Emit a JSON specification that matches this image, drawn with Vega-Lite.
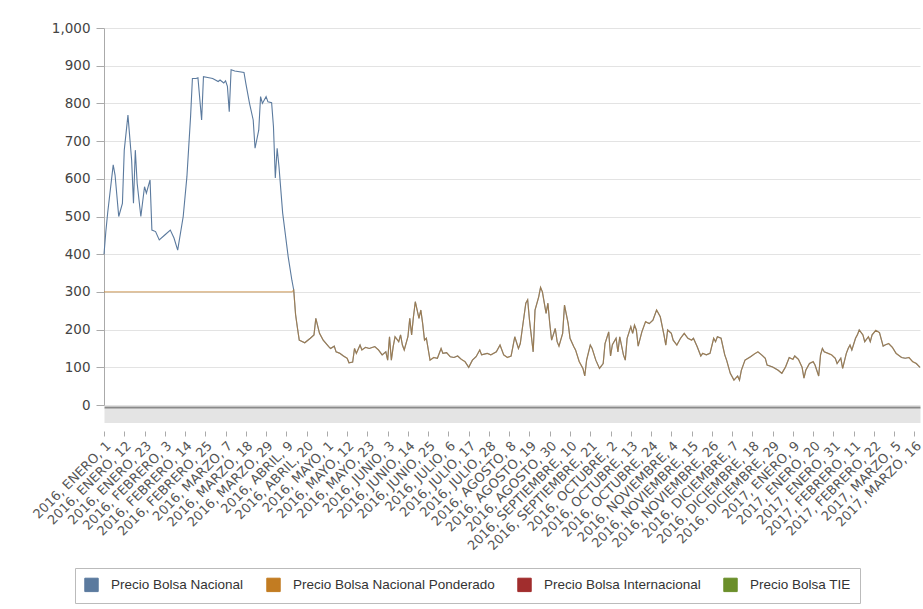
{
  "$schema": "https://vega.github.io/schema/vega-lite/v6.json",
  "width": 816,
  "height": 377,
  "autosize": "none",
  "padding": {"left": 104, "top": 28, "right": 3, "bottom": 204},
  "background": "white",
  "config": {"view": {"stroke": null}},
  "data": {"values": [
    {"fecha": "2016-01-01", "nacional": 400, "ponderado": 300},
    {"fecha": "2016-01-02", "nacional": 460, "ponderado": 300},
    {"fecha": "2016-01-03", "nacional": 510, "ponderado": 300},
    {"fecha": "2016-01-06", "nacional": 637, "ponderado": 300},
    {"fecha": "2016-01-07", "nacional": 610, "ponderado": 300},
    {"fecha": "2016-01-09", "nacional": 500, "ponderado": 300},
    {"fecha": "2016-01-11", "nacional": 535, "ponderado": 300},
    {"fecha": "2016-01-12", "nacional": 676, "ponderado": 300},
    {"fecha": "2016-01-14", "nacional": 769, "ponderado": 300},
    {"fecha": "2016-01-16", "nacional": 650, "ponderado": 300},
    {"fecha": "2016-01-17", "nacional": 535, "ponderado": 300},
    {"fecha": "2016-01-18", "nacional": 676, "ponderado": 300},
    {"fecha": "2016-01-19", "nacional": 588, "ponderado": 300},
    {"fecha": "2016-01-21", "nacional": 500, "ponderado": 300},
    {"fecha": "2016-01-23", "nacional": 579, "ponderado": 300},
    {"fecha": "2016-01-24", "nacional": 562, "ponderado": 300},
    {"fecha": "2016-01-26", "nacional": 597, "ponderado": 300},
    {"fecha": "2016-01-27", "nacional": 464, "ponderado": 300},
    {"fecha": "2016-01-29", "nacional": 460, "ponderado": 300},
    {"fecha": "2016-01-31", "nacional": 438, "ponderado": 300},
    {"fecha": "2016-02-03", "nacional": 451, "ponderado": 300},
    {"fecha": "2016-02-06", "nacional": 464, "ponderado": 300},
    {"fecha": "2016-02-08", "nacional": 443, "ponderado": 300},
    {"fecha": "2016-02-10", "nacional": 411, "ponderado": 300},
    {"fecha": "2016-02-13", "nacional": 500, "ponderado": 300},
    {"fecha": "2016-02-15", "nacional": 605, "ponderado": 300},
    {"fecha": "2016-02-17", "nacional": 765, "ponderado": 300},
    {"fecha": "2016-02-18", "nacional": 866, "ponderado": 300},
    {"fecha": "2016-02-20", "nacional": 866, "ponderado": 300},
    {"fecha": "2016-02-21", "nacional": 868, "ponderado": 300},
    {"fecha": "2016-02-23", "nacional": 756, "ponderado": 300},
    {"fecha": "2016-02-24", "nacional": 871, "ponderado": 300},
    {"fecha": "2016-02-27", "nacional": 868, "ponderado": 300},
    {"fecha": "2016-02-29", "nacional": 866, "ponderado": 300},
    {"fecha": "2016-03-03", "nacional": 858, "ponderado": 300},
    {"fecha": "2016-03-04", "nacional": 862, "ponderado": 300},
    {"fecha": "2016-03-06", "nacional": 854, "ponderado": 300},
    {"fecha": "2016-03-07", "nacional": 860, "ponderado": 300},
    {"fecha": "2016-03-08", "nacional": 845, "ponderado": 300},
    {"fecha": "2016-03-09", "nacional": 778, "ponderado": 300},
    {"fecha": "2016-03-10", "nacional": 889, "ponderado": 300},
    {"fecha": "2016-03-12", "nacional": 886, "ponderado": 300},
    {"fecha": "2016-03-17", "nacional": 882, "ponderado": 300},
    {"fecha": "2016-03-18", "nacional": 853, "ponderado": 300},
    {"fecha": "2016-03-20", "nacional": 800, "ponderado": 300},
    {"fecha": "2016-03-22", "nacional": 756, "ponderado": 300},
    {"fecha": "2016-03-23", "nacional": 681, "ponderado": 300},
    {"fecha": "2016-03-25", "nacional": 729, "ponderado": 300},
    {"fecha": "2016-03-26", "nacional": 818, "ponderado": 300},
    {"fecha": "2016-03-27", "nacional": 800, "ponderado": 300},
    {"fecha": "2016-03-29", "nacional": 818, "ponderado": 300},
    {"fecha": "2016-03-30", "nacional": 804, "ponderado": 300},
    {"fecha": "2016-04-01", "nacional": 802, "ponderado": 300},
    {"fecha": "2016-04-02", "nacional": 738, "ponderado": 300},
    {"fecha": "2016-04-03", "nacional": 602, "ponderado": 300},
    {"fecha": "2016-04-04", "nacional": 681, "ponderado": 300},
    {"fecha": "2016-04-05", "nacional": 632, "ponderado": 300},
    {"fecha": "2016-04-07", "nacional": 509, "ponderado": 300},
    {"fecha": "2016-04-10", "nacional": 393, "ponderado": 300},
    {"fecha": "2016-04-12", "nacional": 331, "ponderado": 300},
    {"fecha": "2016-04-13", "nacional": 305, "ponderado": 305},
    {"fecha": "2016-04-14", "nacional": 240, "ponderado": 240},
    {"fecha": "2016-04-15", "nacional": 205, "ponderado": 205},
    {"fecha": "2016-04-16", "nacional": 172, "ponderado": 172},
    {"fecha": "2016-04-19", "nacional": 165, "ponderado": 165},
    {"fecha": "2016-04-22", "nacional": 177, "ponderado": 177},
    {"fecha": "2016-04-24", "nacional": 186, "ponderado": 186},
    {"fecha": "2016-04-25", "nacional": 230, "ponderado": 230},
    {"fecha": "2016-04-27", "nacional": 190, "ponderado": 190},
    {"fecha": "2016-04-29", "nacional": 172, "ponderado": 172},
    {"fecha": "2016-05-02", "nacional": 155, "ponderado": 155},
    {"fecha": "2016-05-03", "nacional": 150, "ponderado": 150},
    {"fecha": "2016-05-05", "nacional": 156, "ponderado": 156},
    {"fecha": "2016-05-06", "nacional": 141, "ponderado": 141},
    {"fecha": "2016-05-08", "nacional": 137, "ponderado": 137},
    {"fecha": "2016-05-10", "nacional": 130, "ponderado": 130},
    {"fecha": "2016-05-12", "nacional": 124, "ponderado": 124},
    {"fecha": "2016-05-13", "nacional": 112, "ponderado": 112},
    {"fecha": "2016-05-15", "nacional": 114, "ponderado": 114},
    {"fecha": "2016-05-16", "nacional": 150, "ponderado": 150},
    {"fecha": "2016-05-17", "nacional": 137, "ponderado": 137},
    {"fecha": "2016-05-19", "nacional": 159, "ponderado": 159},
    {"fecha": "2016-05-20", "nacional": 146, "ponderado": 146},
    {"fecha": "2016-05-22", "nacional": 153, "ponderado": 153},
    {"fecha": "2016-05-24", "nacional": 150, "ponderado": 150},
    {"fecha": "2016-05-27", "nacional": 155, "ponderado": 155},
    {"fecha": "2016-05-29", "nacional": 146, "ponderado": 146},
    {"fecha": "2016-05-31", "nacional": 133, "ponderado": 133},
    {"fecha": "2016-06-02", "nacional": 141, "ponderado": 141},
    {"fecha": "2016-06-03", "nacional": 119, "ponderado": 119},
    {"fecha": "2016-06-04", "nacional": 181, "ponderado": 181},
    {"fecha": "2016-06-05", "nacional": 119, "ponderado": 119},
    {"fecha": "2016-06-06", "nacional": 155, "ponderado": 155},
    {"fecha": "2016-06-07", "nacional": 181, "ponderado": 181},
    {"fecha": "2016-06-09", "nacional": 168, "ponderado": 168},
    {"fecha": "2016-06-10", "nacional": 186, "ponderado": 186},
    {"fecha": "2016-06-11", "nacional": 159, "ponderado": 159},
    {"fecha": "2016-06-12", "nacional": 146, "ponderado": 146},
    {"fecha": "2016-06-14", "nacional": 181, "ponderado": 181},
    {"fecha": "2016-06-15", "nacional": 230, "ponderado": 230},
    {"fecha": "2016-06-16", "nacional": 186, "ponderado": 186},
    {"fecha": "2016-06-17", "nacional": 234, "ponderado": 234},
    {"fecha": "2016-06-18", "nacional": 274, "ponderado": 274},
    {"fecha": "2016-06-20", "nacional": 230, "ponderado": 230},
    {"fecha": "2016-06-21", "nacional": 252, "ponderado": 252},
    {"fecha": "2016-06-22", "nacional": 216, "ponderado": 216},
    {"fecha": "2016-06-23", "nacional": 172, "ponderado": 172},
    {"fecha": "2016-06-24", "nacional": 177, "ponderado": 177},
    {"fecha": "2016-06-26", "nacional": 119, "ponderado": 119},
    {"fecha": "2016-06-28", "nacional": 126, "ponderado": 126},
    {"fecha": "2016-06-30", "nacional": 124, "ponderado": 124},
    {"fecha": "2016-07-02", "nacional": 150, "ponderado": 150},
    {"fecha": "2016-07-03", "nacional": 137, "ponderado": 137},
    {"fecha": "2016-07-05", "nacional": 139, "ponderado": 139},
    {"fecha": "2016-07-07", "nacional": 128, "ponderado": 128},
    {"fecha": "2016-07-09", "nacional": 126, "ponderado": 126},
    {"fecha": "2016-07-11", "nacional": 130, "ponderado": 130},
    {"fecha": "2016-07-13", "nacional": 121, "ponderado": 121},
    {"fecha": "2016-07-15", "nacional": 115, "ponderado": 115},
    {"fecha": "2016-07-17", "nacional": 100, "ponderado": 100},
    {"fecha": "2016-07-19", "nacional": 119, "ponderado": 119},
    {"fecha": "2016-07-21", "nacional": 128, "ponderado": 128},
    {"fecha": "2016-07-23", "nacional": 146, "ponderado": 146},
    {"fecha": "2016-07-24", "nacional": 133, "ponderado": 133},
    {"fecha": "2016-07-27", "nacional": 137, "ponderado": 137},
    {"fecha": "2016-07-29", "nacional": 133, "ponderado": 133},
    {"fecha": "2016-08-01", "nacional": 141, "ponderado": 141},
    {"fecha": "2016-08-03", "nacional": 159, "ponderado": 159},
    {"fecha": "2016-08-05", "nacional": 133, "ponderado": 133},
    {"fecha": "2016-08-07", "nacional": 126, "ponderado": 126},
    {"fecha": "2016-08-09", "nacional": 130, "ponderado": 130},
    {"fecha": "2016-08-10", "nacional": 155, "ponderado": 155},
    {"fecha": "2016-08-11", "nacional": 181, "ponderado": 181},
    {"fecha": "2016-08-13", "nacional": 150, "ponderado": 150},
    {"fecha": "2016-08-14", "nacional": 163, "ponderado": 163},
    {"fecha": "2016-08-15", "nacional": 199, "ponderado": 199},
    {"fecha": "2016-08-17", "nacional": 270, "ponderado": 270},
    {"fecha": "2016-08-18", "nacional": 279, "ponderado": 279},
    {"fecha": "2016-08-19", "nacional": 225, "ponderado": 225},
    {"fecha": "2016-08-21", "nacional": 141, "ponderado": 141},
    {"fecha": "2016-08-22", "nacional": 252, "ponderado": 252},
    {"fecha": "2016-08-24", "nacional": 287, "ponderado": 287},
    {"fecha": "2016-08-25", "nacional": 312, "ponderado": 312},
    {"fecha": "2016-08-26", "nacional": 300, "ponderado": 300},
    {"fecha": "2016-08-28", "nacional": 243, "ponderado": 243},
    {"fecha": "2016-08-29", "nacional": 270, "ponderado": 270},
    {"fecha": "2016-08-30", "nacional": 216, "ponderado": 216},
    {"fecha": "2016-08-31", "nacional": 172, "ponderado": 172},
    {"fecha": "2016-09-02", "nacional": 203, "ponderado": 203},
    {"fecha": "2016-09-03", "nacional": 168, "ponderado": 168},
    {"fecha": "2016-09-04", "nacional": 156, "ponderado": 156},
    {"fecha": "2016-09-06", "nacional": 190, "ponderado": 190},
    {"fecha": "2016-09-07", "nacional": 265, "ponderado": 265},
    {"fecha": "2016-09-09", "nacional": 216, "ponderado": 216},
    {"fecha": "2016-09-10", "nacional": 177, "ponderado": 177},
    {"fecha": "2016-09-12", "nacional": 155, "ponderado": 155},
    {"fecha": "2016-09-13", "nacional": 146, "ponderado": 146},
    {"fecha": "2016-09-15", "nacional": 115, "ponderado": 115},
    {"fecha": "2016-09-17", "nacional": 97, "ponderado": 97},
    {"fecha": "2016-09-18", "nacional": 77, "ponderado": 77},
    {"fecha": "2016-09-19", "nacional": 119, "ponderado": 119},
    {"fecha": "2016-09-21", "nacional": 159, "ponderado": 159},
    {"fecha": "2016-09-22", "nacional": 150, "ponderado": 150},
    {"fecha": "2016-09-24", "nacional": 119, "ponderado": 119},
    {"fecha": "2016-09-26", "nacional": 97, "ponderado": 97},
    {"fecha": "2016-09-28", "nacional": 110, "ponderado": 110},
    {"fecha": "2016-09-29", "nacional": 163, "ponderado": 163},
    {"fecha": "2016-10-01", "nacional": 194, "ponderado": 194},
    {"fecha": "2016-10-02", "nacional": 130, "ponderado": 130},
    {"fecha": "2016-10-03", "nacional": 160, "ponderado": 160},
    {"fecha": "2016-10-05", "nacional": 177, "ponderado": 177},
    {"fecha": "2016-10-06", "nacional": 141, "ponderado": 141},
    {"fecha": "2016-10-07", "nacional": 181, "ponderado": 181},
    {"fecha": "2016-10-09", "nacional": 133, "ponderado": 133},
    {"fecha": "2016-10-10", "nacional": 119, "ponderado": 119},
    {"fecha": "2016-10-11", "nacional": 177, "ponderado": 177},
    {"fecha": "2016-10-13", "nacional": 208, "ponderado": 208},
    {"fecha": "2016-10-14", "nacional": 190, "ponderado": 190},
    {"fecha": "2016-10-15", "nacional": 212, "ponderado": 212},
    {"fecha": "2016-10-16", "nacional": 199, "ponderado": 199},
    {"fecha": "2016-10-17", "nacional": 156, "ponderado": 156},
    {"fecha": "2016-10-19", "nacional": 194, "ponderado": 194},
    {"fecha": "2016-10-21", "nacional": 221, "ponderado": 221},
    {"fecha": "2016-10-23", "nacional": 216, "ponderado": 216},
    {"fecha": "2016-10-25", "nacional": 225, "ponderado": 225},
    {"fecha": "2016-10-27", "nacional": 252, "ponderado": 252},
    {"fecha": "2016-10-29", "nacional": 234, "ponderado": 234},
    {"fecha": "2016-10-31", "nacional": 186, "ponderado": 186},
    {"fecha": "2016-11-01", "nacional": 159, "ponderado": 159},
    {"fecha": "2016-11-02", "nacional": 199, "ponderado": 199},
    {"fecha": "2016-11-04", "nacional": 190, "ponderado": 190},
    {"fecha": "2016-11-05", "nacional": 172, "ponderado": 172},
    {"fecha": "2016-11-07", "nacional": 159, "ponderado": 159},
    {"fecha": "2016-11-09", "nacional": 177, "ponderado": 177},
    {"fecha": "2016-11-11", "nacional": 190, "ponderado": 190},
    {"fecha": "2016-11-13", "nacional": 177, "ponderado": 177},
    {"fecha": "2016-11-15", "nacional": 172, "ponderado": 172},
    {"fecha": "2016-11-16", "nacional": 177, "ponderado": 177},
    {"fecha": "2016-11-18", "nacional": 155, "ponderado": 155},
    {"fecha": "2016-11-20", "nacional": 130, "ponderado": 130},
    {"fecha": "2016-11-21", "nacional": 137, "ponderado": 137},
    {"fecha": "2016-11-23", "nacional": 133, "ponderado": 133},
    {"fecha": "2016-11-25", "nacional": 137, "ponderado": 137},
    {"fecha": "2016-11-27", "nacional": 177, "ponderado": 177},
    {"fecha": "2016-11-28", "nacional": 168, "ponderado": 168},
    {"fecha": "2016-11-29", "nacional": 181, "ponderado": 181},
    {"fecha": "2016-12-01", "nacional": 177, "ponderado": 177},
    {"fecha": "2016-12-03", "nacional": 133, "ponderado": 133},
    {"fecha": "2016-12-04", "nacional": 119, "ponderado": 119},
    {"fecha": "2016-12-06", "nacional": 84, "ponderado": 84},
    {"fecha": "2016-12-08", "nacional": 66, "ponderado": 66},
    {"fecha": "2016-12-10", "nacional": 77, "ponderado": 77},
    {"fecha": "2016-12-11", "nacional": 66, "ponderado": 66},
    {"fecha": "2016-12-12", "nacional": 92, "ponderado": 92},
    {"fecha": "2016-12-14", "nacional": 119, "ponderado": 119},
    {"fecha": "2016-12-17", "nacional": 128, "ponderado": 128},
    {"fecha": "2016-12-19", "nacional": 135, "ponderado": 135},
    {"fecha": "2016-12-21", "nacional": 141, "ponderado": 141},
    {"fecha": "2016-12-23", "nacional": 133, "ponderado": 133},
    {"fecha": "2016-12-25", "nacional": 124, "ponderado": 124},
    {"fecha": "2016-12-26", "nacional": 106, "ponderado": 106},
    {"fecha": "2016-12-29", "nacional": 101, "ponderado": 101},
    {"fecha": "2017-01-01", "nacional": 92, "ponderado": 92},
    {"fecha": "2017-01-03", "nacional": 84, "ponderado": 84},
    {"fecha": "2017-01-05", "nacional": 101, "ponderado": 101},
    {"fecha": "2017-01-07", "nacional": 126, "ponderado": 126},
    {"fecha": "2017-01-09", "nacional": 121, "ponderado": 121},
    {"fecha": "2017-01-10", "nacional": 130, "ponderado": 130},
    {"fecha": "2017-01-12", "nacional": 121, "ponderado": 121},
    {"fecha": "2017-01-14", "nacional": 100, "ponderado": 100},
    {"fecha": "2017-01-15", "nacional": 71, "ponderado": 71},
    {"fecha": "2017-01-16", "nacional": 92, "ponderado": 92},
    {"fecha": "2017-01-18", "nacional": 110, "ponderado": 110},
    {"fecha": "2017-01-20", "nacional": 115, "ponderado": 115},
    {"fecha": "2017-01-21", "nacional": 106, "ponderado": 106},
    {"fecha": "2017-01-23", "nacional": 77, "ponderado": 77},
    {"fecha": "2017-01-24", "nacional": 133, "ponderado": 133},
    {"fecha": "2017-01-25", "nacional": 150, "ponderado": 150},
    {"fecha": "2017-01-26", "nacional": 141, "ponderado": 141},
    {"fecha": "2017-01-28", "nacional": 137, "ponderado": 137},
    {"fecha": "2017-01-30", "nacional": 133, "ponderado": 133},
    {"fecha": "2017-02-01", "nacional": 124, "ponderado": 124},
    {"fecha": "2017-02-02", "nacional": 110, "ponderado": 110},
    {"fecha": "2017-02-04", "nacional": 124, "ponderado": 124},
    {"fecha": "2017-02-05", "nacional": 97, "ponderado": 97},
    {"fecha": "2017-02-07", "nacional": 137, "ponderado": 137},
    {"fecha": "2017-02-08", "nacional": 150, "ponderado": 150},
    {"fecha": "2017-02-09", "nacional": 159, "ponderado": 159},
    {"fecha": "2017-02-10", "nacional": 146, "ponderado": 146},
    {"fecha": "2017-02-12", "nacional": 177, "ponderado": 177},
    {"fecha": "2017-02-13", "nacional": 186, "ponderado": 186},
    {"fecha": "2017-02-14", "nacional": 199, "ponderado": 199},
    {"fecha": "2017-02-16", "nacional": 186, "ponderado": 186},
    {"fecha": "2017-02-17", "nacional": 168, "ponderado": 168},
    {"fecha": "2017-02-19", "nacional": 181, "ponderado": 181},
    {"fecha": "2017-02-20", "nacional": 168, "ponderado": 168},
    {"fecha": "2017-02-21", "nacional": 186, "ponderado": 186},
    {"fecha": "2017-02-23", "nacional": 198, "ponderado": 198},
    {"fecha": "2017-02-25", "nacional": 192, "ponderado": 192},
    {"fecha": "2017-02-27", "nacional": 156, "ponderado": 156},
    {"fecha": "2017-02-28", "nacional": 159, "ponderado": 159},
    {"fecha": "2017-03-02", "nacional": 163, "ponderado": 163},
    {"fecha": "2017-03-04", "nacional": 153, "ponderado": 153},
    {"fecha": "2017-03-06", "nacional": 137, "ponderado": 137},
    {"fecha": "2017-03-09", "nacional": 126, "ponderado": 126},
    {"fecha": "2017-03-11", "nacional": 124, "ponderado": 124},
    {"fecha": "2017-03-13", "nacional": 126, "ponderado": 126},
    {"fecha": "2017-03-15", "nacional": 115, "ponderado": 115},
    {"fecha": "2017-03-17", "nacional": 110, "ponderado": 110},
    {"fecha": "2017-03-19", "nacional": 100, "ponderado": 100}
  ]},
  "resolve": {"axis": {"x": "independent", "y": "independent"}},
  "layer": [
    {
      "mark": {"type": "rule", "opacity": 0},
      "encoding": {
        "x": {"field": "fecha", "type": "temporal",
          "scale": {"type": "utc", "domain": [{"year": 2016, "month": 1, "date": 1, "utc": true}, {"year": 2017, "month": 3, "date": 19, "utc": true}]},
          "axis": {"orient": "bottom", "offset": 10, "domainWidth": 15, "domainColor": "#e4e4e4", "labels": false, "ticks": false, "grid": false, "title": null}}
      }
    },
    {
      "mark": {"type": "rule", "opacity": 0},
      "encoding": {
        "x": {"field": "fecha", "type": "temporal",
          "axis": {"orient": "bottom", "offset": 2, "domainWidth": 2, "domainColor": "#8a8a8a", "labels": false, "ticks": false, "grid": false, "title": null}}
      }
    },
    {
      "mark": {"type": "line", "strokeWidth": 1.1},
      "encoding": {
        "x": {"field": "fecha", "type": "temporal",
          "axis": {
            "orient": "bottom", "offset": 26, "title": null, "grid": false, "domain": false,
            "values": [
              {"year": 2016, "month": 1, "date": 1, "utc": true},
              {"year": 2016, "month": 1, "date": 12, "utc": true},
              {"year": 2016, "month": 1, "date": 23, "utc": true},
              {"year": 2016, "month": 2, "date": 3, "utc": true},
              {"year": 2016, "month": 2, "date": 14, "utc": true},
              {"year": 2016, "month": 2, "date": 25, "utc": true},
              {"year": 2016, "month": 3, "date": 7, "utc": true},
              {"year": 2016, "month": 3, "date": 18, "utc": true},
              {"year": 2016, "month": 3, "date": 29, "utc": true},
              {"year": 2016, "month": 4, "date": 9, "utc": true},
              {"year": 2016, "month": 4, "date": 20, "utc": true},
              {"year": 2016, "month": 5, "date": 1, "utc": true},
              {"year": 2016, "month": 5, "date": 12, "utc": true},
              {"year": 2016, "month": 5, "date": 23, "utc": true},
              {"year": 2016, "month": 6, "date": 3, "utc": true},
              {"year": 2016, "month": 6, "date": 14, "utc": true},
              {"year": 2016, "month": 6, "date": 25, "utc": true},
              {"year": 2016, "month": 7, "date": 6, "utc": true},
              {"year": 2016, "month": 7, "date": 17, "utc": true},
              {"year": 2016, "month": 7, "date": 28, "utc": true},
              {"year": 2016, "month": 8, "date": 8, "utc": true},
              {"year": 2016, "month": 8, "date": 19, "utc": true},
              {"year": 2016, "month": 8, "date": 30, "utc": true},
              {"year": 2016, "month": 9, "date": 10, "utc": true},
              {"year": 2016, "month": 9, "date": 21, "utc": true},
              {"year": 2016, "month": 10, "date": 2, "utc": true},
              {"year": 2016, "month": 10, "date": 13, "utc": true},
              {"year": 2016, "month": 10, "date": 24, "utc": true},
              {"year": 2016, "month": 11, "date": 4, "utc": true},
              {"year": 2016, "month": 11, "date": 15, "utc": true},
              {"year": 2016, "month": 11, "date": 26, "utc": true},
              {"year": 2016, "month": 12, "date": 7, "utc": true},
              {"year": 2016, "month": 12, "date": 18, "utc": true},
              {"year": 2016, "month": 12, "date": 29, "utc": true},
              {"year": 2017, "month": 1, "date": 9, "utc": true},
              {"year": 2017, "month": 1, "date": 20, "utc": true},
              {"year": 2017, "month": 1, "date": 31, "utc": true},
              {"year": 2017, "month": 2, "date": 11, "utc": true},
              {"year": 2017, "month": 2, "date": 22, "utc": true},
              {"year": 2017, "month": 3, "date": 5, "utc": true},
              {"year": 2017, "month": 3, "date": 16, "utc": true}
            ],
            "labelExpr": "utcFormat(datum.value, '%Y') + ', ' + ['ENERO','FEBRERO','MARZO','ABRIL','MAYO','JUNIO','JULIO','AGOSTO','SEPTIEMBRE','OCTUBRE','NOVIEMBRE','DICIEMBRE'][utcmonth(datum.value)] + ', ' + utcdate(datum.value)",
            "labelAngle": -45, "labelFont": "DejaVu Sans", "labelFontSize": 13, "labelColor": "#555555",
            "labelOverlap": false, "labelPadding": 3, "tickSize": 5, "tickColor": "#aaaaaa"
          }},
        "y": {"field": "nacional", "type": "quantitative",
          "scale": {"domain": [0, 1000], "nice": false},
          "axis": {"title": null, "values": [0, 100, 200, 300, 400, 500, 600, 700, 800, 900, 1000],
            "labelExpr": "format(datum.value, ',')", "labelOverlap": false,
            "labelFont": "DejaVu Sans", "labelFontSize": 13.5, "labelColor": "#444444", "labelPadding": 6,
            "tickSize": 8, "tickColor": "#aaaaaa", "domainColor": "#aaaaaa", "gridColor": "#e3e3e3"}},
        "color": {"datum": "Precio Bolsa Nacional", "type": "nominal",
          "scale": {"domain": ["Precio Bolsa Nacional", "Precio Bolsa Nacional Ponderado", "Precio Bolsa Internacional", "Precio Bolsa TIE"],
                    "range": ["#5b7a9e", "#c27c22", "#a12d2d", "#6b8f2a"]},
          "legend": {
            "orient": "none", "legendX": -29, "legendY": 540, "direction": "horizontal", "columns": 4,
            "title": null, "symbolType": "square", "symbolSize": 180, "symbolStrokeWidth": 1,
            "labelFont": "Liberation Sans", "labelFontSize": 13.5, "labelColor": "#333333", "labelOffset": 12, "labelLimit": 300,
            "columnPadding": 20, "padding": 9, "strokeColor": "#bbbbbb", "fillColor": "white",
            "encode": {"symbols": {"update": {"fill": {"scale": "color", "field": "value"}, "stroke": {"value": "#999999"}, "fillOpacity": {"value": 1}}}}
          }}
      }
    },
    {
      "mark": {"type": "line", "strokeWidth": 1.2, "opacity": 0.6},
      "encoding": {
        "x": {"field": "fecha", "type": "temporal", "axis": null},
        "y": {"field": "ponderado", "type": "quantitative", "axis": null},
        "color": {"datum": "Precio Bolsa Nacional Ponderado", "type": "nominal"}
      }
    }
  ]
}
